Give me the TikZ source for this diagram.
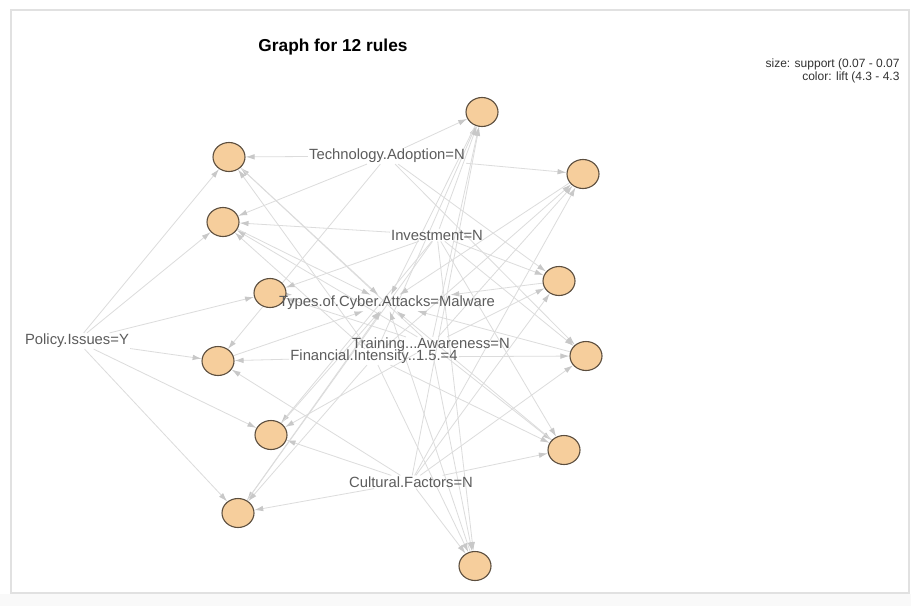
\documentclass[tikz,border=0pt]{standalone}
\usepackage{fontspec}
\setmainfont{Liberation Sans}
\usetikzlibrary{arrows.meta,shapes.geometric,backgrounds}
\definecolor{rulefill}{RGB}{246,206,156}
\definecolor{ruleline}{RGB}{92,78,62}
\definecolor{edgecol}{RGB}{220,220,220}
\definecolor{tipcol}{RGB}{200,200,200}
\definecolor{itemtext}{RGB}{92,92,92}
\definecolor{framecol}{RGB}{225,225,225}
\tikzset{
  rulenode/.style={ellipse, draw=ruleline, fill=rulefill, line width=1.1pt,
    minimum width=32pt, minimum height=29pt, inner sep=0pt},
  itemnode/.style={text=itemtext, inner sep=1pt,
    font=\fontsize{14.8}{17}\selectfont},
  edge/.style={draw=edgecol, line width=0.8pt,
    -{Latex[length=9pt,width=5.5pt,color=tipcol]}},
  legendtext/.style={anchor=base east, font=\fontsize{12}{14}\selectfont,
    text={rgb,255:red,50;green,50;blue,50}},
}
\begin{document}
\begin{tikzpicture}[x=1pt,y=-1pt]
\useasboundingbox (0,0) rectangle (911,606);

% rule vertices
\node[rulenode] (r1)  at (229,157) {};
\node[rulenode] (r2)  at (223,222) {};
\node[rulenode] (r3)  at (270,293) {};
\node[rulenode] (r4)  at (218,361) {};
\node[rulenode] (r5)  at (271,435) {};
\node[rulenode] (r6)  at (238,513) {};
\node[rulenode] (r7)  at (482,112) {};
\node[rulenode] (r8)  at (583,174) {};
\node[rulenode] (r9)  at (559,281) {};
\node[rulenode] (r10) at (586,356) {};
\node[rulenode] (r11) at (564,450) {};
\node[rulenode] (r12) at (475,566) {};

% item vertices (labels)
\node[itemnode] (ta)  at (387,156) {Technology.Adoption=N};
\node[itemnode] (inv) at (437,235) {Investment=N};
\node[itemnode] (typ) at (387,303) {Types.of.Cyber.Attacks=Malware};
\node[itemnode] (tra) at (431,345) {Training...Awareness=N};
\node[itemnode] (fin) at (374,357) {Financial.Intensity..1.5.=4};
\node[itemnode] (pol) at (77,341)  {Policy.Issues=Y};
\node[itemnode] (cul) at (411,482) {Cultural.Factors=N};

% title and legend
\node[anchor=base, font=\fontsize{17.3}{20}\selectfont\bfseries] (title) at (333,51) {Graph for 12 rules};
\node[legendtext] (leg1) at (903,67) {size: support (0.07 - 0.07};
\node[legendtext] (leg2) at (903,80) {color: lift (4.3 - 4.3};

\begin{pgfonlayer}{background}
  % page with its faint frame
  \fill[white] (0,0) rectangle (911,606);
  \fill[gray!5] (0,594) rectangle (911,606);
  \draw[framecol, line width=1.6pt] (11,10) rectangle (909,593);
  % LHS items -> rule, rule -> RHS item
  \foreach \r/\L in {
      r1/{pol,ta,tra,fin},
      r2/{pol,ta,inv,tra,fin},
      r3/{pol,inv,tra},
      r4/{pol,ta,fin,cul},
      r5/{pol,inv,tra,cul},
      r6/{pol,cul,inv,fin},
      r7/{ta,inv,tra,fin,cul},
      r8/{ta,fin,cul,tra},
      r9/{ta,inv,tra,cul},
      r10/{ta,fin,cul,inv},
      r11/{inv,tra,cul,fin},
      r12/{inv,tra,fin,cul}} {
    \foreach \i in \L { \draw[edge] (\i) -- (\r); }
    \draw[edge] (\r) -- (typ);
  }
\end{pgfonlayer}
\end{tikzpicture}
\end{document}
